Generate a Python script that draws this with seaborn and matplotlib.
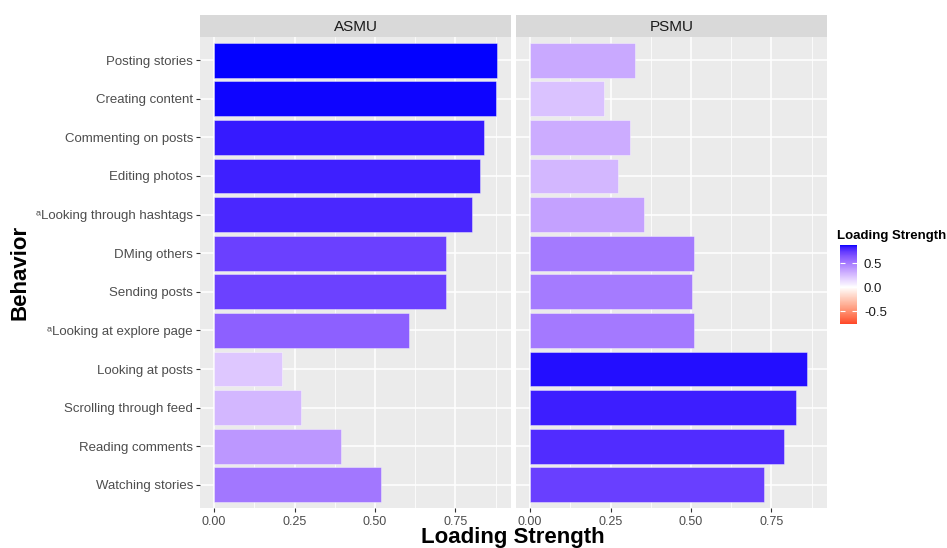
import numpy as np
import pandas as pd
import matplotlib
matplotlib.use("Agg")
import matplotlib.pyplot as plt
from matplotlib.colors import ListedColormap, Normalize
from matplotlib.cm import ScalarMappable
import seaborn as sns

# --- data ---
behaviors = [
    "Posting stories", "Creating content", "Commenting on posts", "Editing photos",
    "\u1d43Looking through hashtags", "DMing others", "Sending posts",
    "\u1d43Looking at explore page", "Looking at posts", "Scrolling through feed",
    "Reading comments", "Watching stories",
]
asmu = [0.879, 0.875, 0.838, 0.826, 0.803, 0.722, 0.720, 0.605, 0.210, 0.270, 0.393, 0.518]
psmu = [0.327, 0.229, 0.312, 0.272, 0.355, 0.508, 0.504, 0.510, 0.861, 0.828, 0.790, 0.728]
panels = ["ASMU", "PSMU"]
x_ticks = [0.0, 0.25, 0.5, 0.75]
x_ticklabels = ["0.00", "0.25", "0.50", "0.75"]
fill_limits = (-0.77, 0.88)
cbar_ticks = [0.5, 0.0, -0.5]
cbar_ticklabels = ["0.5", "0.0", "-0.5"]

df = pd.DataFrame({
    "behavior": behaviors * 2,
    "loading": asmu + psmu,
    "group": [panels[0]] * len(asmu) + [panels[1]] * len(psmu),
})


# --- ggplot-like gradient2 (red / white / blue, interpolated in Lab) ---
def srgb_to_lab(rgb):
    rgb = np.asarray(rgb, float)
    lin = np.where(rgb <= 0.04045, rgb / 12.92, ((rgb + 0.055) / 1.055) ** 2.4)
    m = np.array([[0.4124, 0.3576, 0.1805],
                  [0.2126, 0.7152, 0.0722],
                  [0.0193, 0.1192, 0.9505]])
    xyz = m @ lin / np.array([0.95047, 1.0, 1.08883])
    f = np.where(xyz > 0.008856, np.cbrt(xyz), 7.787 * xyz + 16 / 116)
    return np.array([116 * f[1] - 16, 500 * (f[0] - f[1]), 200 * (f[1] - f[2])])


def lab_to_srgb(lab):
    L, a, b = lab
    fy = (L + 16) / 116
    fx = fy + a / 500
    fz = fy - b / 200
    f = np.array([fx, fy, fz])
    xyz = np.where(f ** 3 > 0.008856, f ** 3, (f - 16 / 116) / 7.787)
    xyz = xyz * np.array([0.95047, 1.0, 1.08883])
    m = np.array([[3.2406, -1.5372, -0.4986],
                  [-0.9689, 1.8758, 0.0415],
                  [0.0557, -0.2040, 1.0570]])
    lin = m @ xyz
    rgb = np.where(lin <= 0.0031308, 12.92 * lin, 1.055 * np.clip(lin, 0, None) ** (1 / 2.4) - 0.055)
    return tuple(np.clip(rgb, 0, 1))


LOW = srgb_to_lab([1, 0, 0])
MID = srgb_to_lab([1, 1, 1])
HIGH = srgb_to_lab([0, 0, 1])
M = max(abs(fill_limits[0]), abs(fill_limits[1]))


def fill_color(v):
    t = v / M / 2 + 0.5
    if t >= 0.5:
        s = (t - 0.5) / 0.5
        lab = MID + s * (HIGH - MID)
    else:
        s = t / 0.5
        lab = LOW + s * (MID - LOW)
    return lab_to_srgb(lab)


plt.rcParams["font.family"] = ["Liberation Sans", "DejaVu Sans"]

W, H = 947, 548
fig = plt.figure(figsize=(W / 100, H / 100), dpi=100)
fig.patch.set_facecolor("white")

panel_x = [200, 516]
panel_w = 311
top, bottom = 37, 508

for px, name in zip(panel_x, panels):
    ax = fig.add_axes([px / W, 1 - bottom / H, panel_w / W, (bottom - top) / H])
    sub = df[df["group"] == name]
    pal = {b: fill_color(v) for b, v in zip(sub["behavior"], sub["loading"])}
    sns.barplot(data=sub, x="loading", y="behavior", hue="behavior", palette=pal,
                order=behaviors, hue_order=behaviors, legend=False, width=0.9,
                orient="h", ax=ax, saturation=1, edgecolor=(1, 1, 1, 0.45), linewidth=0.6)
    ax.set_facecolor("#EBEBEB")
    ax.set_xlim(-0.044, 0.923)
    ax.set_ylim(len(behaviors) - 0.4, -0.6)
    ax.set_xticks(x_ticks)
    ax.set_xticklabels(x_ticklabels)
    ax.set_xticks([0.125, 0.375, 0.625, 0.875], minor=True)
    ax.grid(True, which="major", color="white", linewidth=1.1)
    ax.grid(True, which="minor", axis="x", color="white", linewidth=0.55)
    ax.set_axisbelow(True)
    for s in ax.spines.values():
        s.set_visible(False)
    ax.tick_params(axis="both", which="major", length=3, width=0.8, color="#333333",
                   labelcolor="#4D4D4D", pad=2)
    ax.tick_params(axis="x", labelsize=9, pad=3)
    ax.tick_params(axis="y", labelsize=9.5)
    ax.tick_params(which="minor", length=0)
    ax.set_xlabel("")
    ax.set_ylabel("")
    if name != panels[0]:
        ax.tick_params(axis="y", left=False, labelleft=False)

    # facet strip
    sax = fig.add_axes([px / W, 1 - top / H, panel_w / W, 22 / H])
    sax.set_facecolor("#D9D9D9")
    sax.set_xticks([])
    sax.set_yticks([])
    for s in sax.spines.values():
        s.set_visible(False)
    sax.text(0.5, 0.45, name, ha="center", va="center", fontsize=11, color="#1A1A1A",
             transform=sax.transAxes)

fig.text(513 / W, 1 - 537 / H, "Loading Strength", ha="center", va="center",
         fontsize=16, fontweight="bold")
fig.text(20 / W, 1 - 272 / H, "Behavior", ha="center", va="center", rotation=90,
         fontsize=16, fontweight="bold")

# colour bar legend
vals = np.linspace(fill_limits[0], fill_limits[1], 256)
cmap = ListedColormap([fill_color(v) for v in vals])
cax = fig.add_axes([840 / W, 1 - 324 / H, 17 / W, 79 / H])
sm = ScalarMappable(norm=Normalize(*fill_limits), cmap=cmap)
cb = fig.colorbar(sm, cax=cax)
cb.outline.set_visible(False)
cb.set_ticks(cbar_ticks)
cb.set_ticklabels(cbar_ticklabels)
cax.tick_params(axis="y", left=True, right=True, direction="in", length=3.5,
                width=0.8, color="white", labelsize=9.5, labelcolor="#1A1A1A", pad=5)
fig.text(837 / W, 1 - 236 / H, "Loading Strength", ha="left", va="center",
         fontsize=9.5, fontweight="bold")

fig.savefig("out.png", dpi=100)
